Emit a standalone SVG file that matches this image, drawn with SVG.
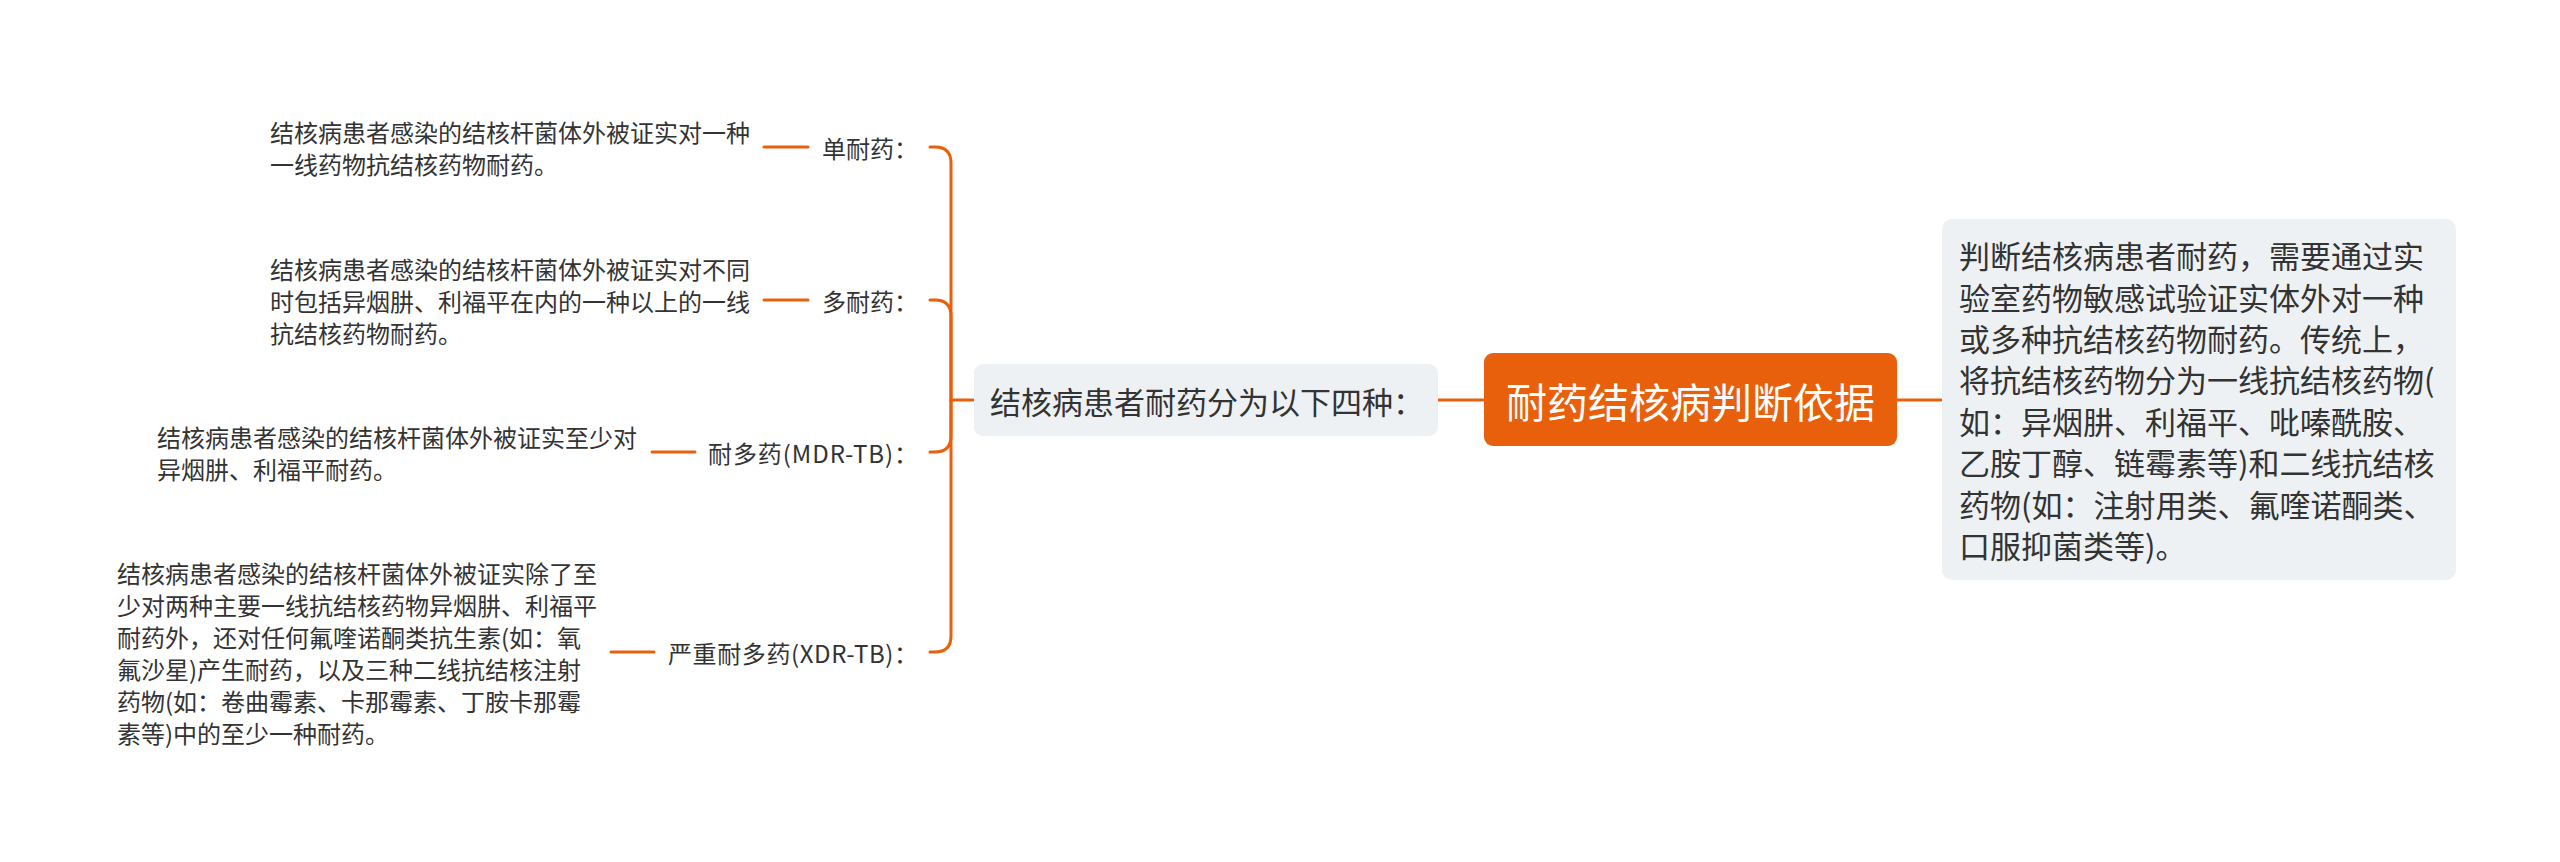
<svg xmlns="http://www.w3.org/2000/svg" width="2560" height="862" viewBox="0 0 2560 862">
<style>
text{font-family:"Noto Sans CJK SC","Noto Sans",sans-serif;fill:#333333;dominant-baseline:central}
.leaf{font-size:24px}
.lbl{font-size:24px}
.mid{font-size:31px}
.root{font-size:41px;fill:#ffffff;text-anchor:middle}
.box{fill:#eef1f4}
.conn{fill:none;stroke:#e8600c;stroke-width:3;stroke-linecap:round}
</style>
<rect width="2560" height="862" fill="#ffffff"/>
<g id="connectors">
<path class="conn" d="M1438,400 H1484"/>
<path class="conn" d="M1897,400 H1942"/>
<path class="conn" d="M974,400 H951"/>
<path class="conn" d="M951,400 V163 Q951,147 935,147 H930"/>
<path class="conn" d="M951,400 V316 Q951,300 935,300 H930"/>
<path class="conn" d="M951,400 V436 Q951,452 935,452 H930"/>
<path class="conn" d="M951,400 V636 Q951,652 935,652 H930"/>
<path class="conn" d="M764,147 H808"/>
<path class="conn" d="M764,300 H808"/>
<path class="conn" d="M652,452 H695"/>
<path class="conn" d="M611,652 H654"/>
</g>
<g id="root">
<rect x="1484" y="353" width="413" height="93" rx="9" fill="#e8600c"/>
<text class="root" x="1690.5" y="400">耐药结核病判断依据</text>
</g>
<g id="desc">
<rect class="box" x="1942" y="219" width="514" height="361" rx="10"/>
<text class="mid" x="1959" y="254.6">判断结核病患者耐药，需要通过实</text>
<text class="mid" x="1959" y="296">验室药物敏感试验证实体外对一种</text>
<text class="mid" x="1959" y="337.4">或多种抗结核药物耐药。传统上，</text>
<text class="mid" x="1959" y="378.8">将抗结核药物分为一线抗结核药物(</text>
<text class="mid" x="1959" y="420.2">如：异烟肼、利福平、吡嗪酰胺、</text>
<text class="mid" x="1959" y="461.6">乙胺丁醇、链霉素等)和二线抗结核</text>
<text class="mid" x="1959" y="503">药物(如：注射用类、氟喹诺酮类、</text>
<text class="mid" x="1959" y="544.4">口服抑菌类等)。</text>
</g>
<g id="types">
<rect class="box" x="974" y="364" width="464" height="72" rx="9"/>
<text class="mid" x="990" y="400">结核病患者耐药分为以下四种：</text>
</g>
<g id="single">
<text class="lbl" x="822" y="147">单耐药：</text>
</g>
<g id="single-desc">
<text class="leaf" x="270" y="131">结核病患者感染的结核杆菌体外被证实对一种</text>
<text class="leaf" x="270" y="163">一线药物抗结核药物耐药。</text>
</g>
<g id="multi">
<text class="lbl" x="822" y="300">多耐药：</text>
</g>
<g id="multi-desc">
<text class="leaf" x="270" y="268">结核病患者感染的结核杆菌体外被证实对不同</text>
<text class="leaf" x="270" y="300">时包括异烟肼、利福平在内的一种以上的一线</text>
<text class="leaf" x="270" y="332">抗结核药物耐药。</text>
</g>
<g id="mdr">
<text class="lbl" x="708" y="452" textLength="210" lengthAdjust="spacing">耐多药(MDR-TB)：</text>
</g>
<g id="mdr-desc">
<text class="leaf" x="157" y="436">结核病患者感染的结核杆菌体外被证实至少对</text>
<text class="leaf" x="157" y="468">异烟肼、利福平耐药。</text>
</g>
<g id="xdr">
<text class="lbl" x="668" y="652" textLength="250" lengthAdjust="spacing">严重耐多药(XDR-TB)：</text>
</g>
<g id="xdr-desc">
<text class="leaf" x="117" y="572">结核病患者感染的结核杆菌体外被证实除了至</text>
<text class="leaf" x="117" y="604">少对两种主要一线抗结核药物异烟肼、利福平</text>
<text class="leaf" x="117" y="636">耐药外，还对任何氟喹诺酮类抗生素(如：氧</text>
<text class="leaf" x="117" y="668">氟沙星)产生耐药，以及三种二线抗结核注射</text>
<text class="leaf" x="117" y="700">药物(如：卷曲霉素、卡那霉素、丁胺卡那霉</text>
<text class="leaf" x="117" y="732">素等)中的至少一种耐药。</text>
</g>
</svg>
